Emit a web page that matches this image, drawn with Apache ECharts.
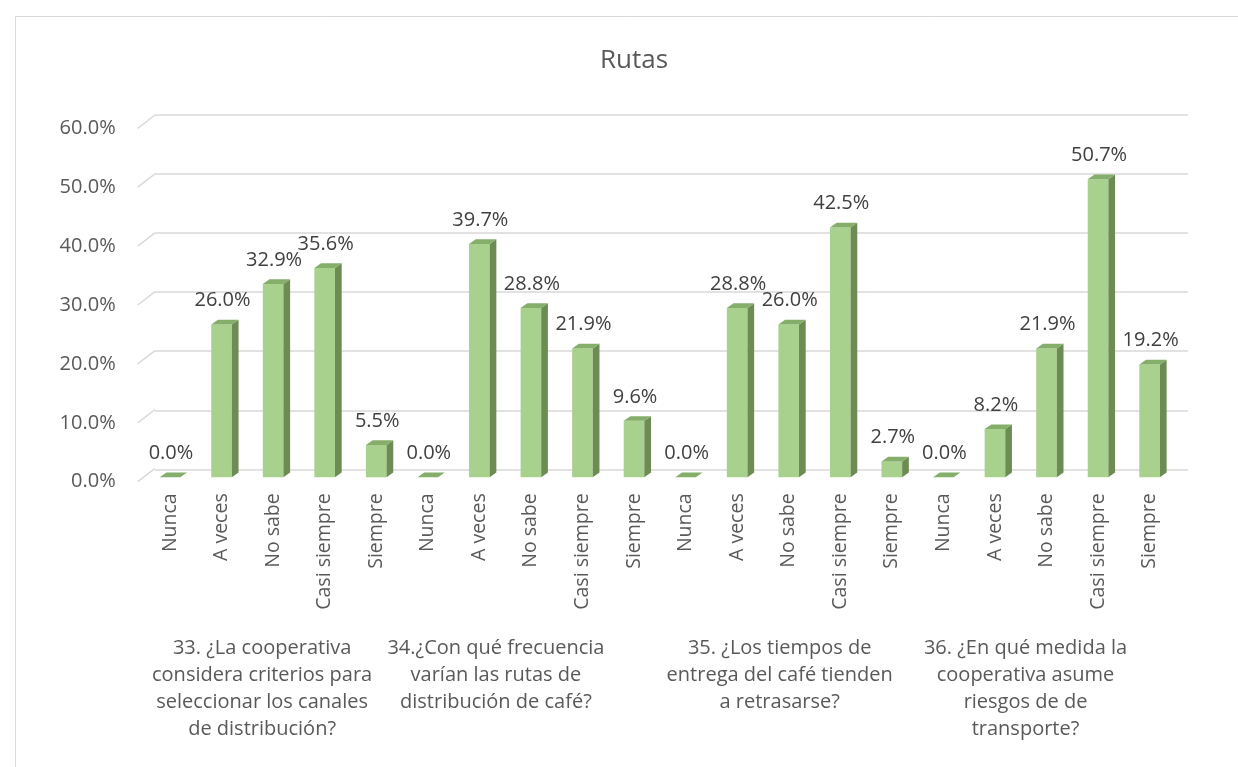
<!DOCTYPE html>
<html>
<head>
<meta charset="utf-8">
<script src="https://cdn.jsdelivr.net/npm/echarts@6/dist/echarts.min.js"></script>
<style>
html,body{margin:0;padding:0;background:#ffffff;}
#chart{width:1238px;height:767px;}
</style>
</head>
<body>
<div id="chart"></div>
<script>
// Survey answers, one block of five per question
const responses = ['Nunca', 'A veces', 'No sabe', 'Casi siempre', 'Siempre'];
const questions = [
  '33. ¿La cooperativa\nconsidera criterios para\nseleccionar los canales\nde distribución?',
  '34.¿Con qué frecuencia\nvarían las rutas de\ndistribución de café?',
  '35. ¿Los tiempos de\nentrega del café tienden\na retrasarse?',
  '36. ¿En qué medida la\ncooperativa asume\nriesgos de de\ntransporte?'
];
const q33 = [0.0, 26.0, 32.9, 35.6, 5.5];
const q34 = [0.0, 39.7, 28.8, 21.9, 9.6];
const q35 = [0.0, 28.8, 26.0, 42.5, 2.7];
const q36 = [0.0, 8.2, 21.9, 50.7, 19.2];
const yTicks = [0, 10, 20, 30, 40, 50, 60];

const FONT = '"Open Sans", "Noto Sans", sans-serif';
const FRONT = '#A9D18E', SIDE = '#6C8C54', TOP = '#84AE6A';
const GRID_C = '#D9D9D9';

const categories = [];
const values = [];
[q33, q34, q35, q36].forEach(function (arr) {
  arr.forEach(function (v, j) {
    categories.push(responses[j]);
    values.push(v);
  });
});
const barData = values.map(function (v, i) { return [i, v]; });

// question captions sit a little left of their block centre (right padding nudges them)
const captionPad = [22, 70, 18, 42];
const questionItems = questions.map(function (q, k) {
  return { value: q, textStyle: { padding: [0, captionPad[k], 0, 0] } };
});

// perspective depth of the boxes
const DX = 6.7, DY = -4.7;

function renderBar(params, api) {
  const i = api.value(0), v = api.value(1);
  const top = api.coord([i, v]);
  const base = api.coord([i, 0]);
  const w = api.size([1, 0])[0] * 0.4;
  const x0 = top[0] - w / 2, x1 = top[0] + w / 2;
  const yt = top[1], yb = base[1];
  const children = [];
  if (yb - yt > 0.3) {
    children.push({ type: 'rect', shape: { x: x0, y: yt, width: w, height: yb - yt }, style: { fill: FRONT } });
    children.push({ type: 'polygon', shape: { points: [[x1, yt], [x1 + DX, yt + DY], [x1 + DX, yb + DY], [x1, yb]] }, style: { fill: SIDE } });
  }
  children.push({ type: 'polygon', shape: { points: [[x0, yt], [x1, yt], [x1 + DX, yt + DY], [x0 + DX, yt + DY]] }, style: { fill: TOP } });
  children.push({
    type: 'text',
    style: {
      text: v.toFixed(1) + '%', x: top[0] + 1, y: yt - 24,
      align: 'center', verticalAlign: 'middle',
      fontSize: 20, fontFamily: FONT, fill: '#404040'
    }
  });
  return { type: 'group', children: children };
}

function renderSlant(params, api) {
  const p = api.coord([0, api.value(1)]);
  return {
    type: 'line',
    shape: { x1: p[0], y1: p[1], x2: p[0] + 17.3, y2: p[1] - 13.3 },
    style: { stroke: GRID_C, lineWidth: 1.5 }
  };
}

const chart = echarts.init(document.getElementById('chart'), null, { renderer: 'canvas' });
const plotW = 1031.2;
chart.setOption({
  backgroundColor: '#ffffff',
  animation: false,
  title: {
    text: 'Rutas', left: 629, top: 43, textAlign: 'center',
    textStyle: { fontSize: 26, fontWeight: 'normal', color: '#595959', fontFamily: FONT }
  },
  graphic: [{
    type: 'polyline', silent: true,
    shape: { points: [[15.5, 767], [15.5, 16.5], [1238, 16.5]] },
    style: { stroke: GRID_C, lineWidth: 1, fill: null }
  }],
  grid: [
    { left: 155, top: 115, width: 1033, height: 354.3 },
    { left: 137.7, top: 128.3, width: 17.3, height: 353.4 },
    { left: 144.2, top: 124.6, width: plotW, height: 352.7 },
    { left: 144.2, top: 124.6, width: plotW, height: 352.7 }
  ],
  xAxis: [
    { gridIndex: 0, type: 'value', show: false },
    { gridIndex: 1, type: 'value', min: 0, max: 1, show: false },
    {
      gridIndex: 2, type: 'category', data: categories,
      axisLine: { show: false }, axisTick: { show: false }, splitLine: { show: false },
      axisLabel: { interval: 0, rotate: 90, margin: 16, fontSize: 19.5, color: '#595959', fontFamily: FONT }
    },
    {
      gridIndex: 3, type: 'category', data: questionItems,
      axisLine: { show: false }, axisTick: { show: false }, splitLine: { show: false },
      axisLabel: { interval: 0, margin: 157, fontSize: 20, lineHeight: 27, color: '#595959', fontFamily: FONT, verticalAlign: 'top', align: 'center' }
    }
  ],
  yAxis: [
    {
      gridIndex: 0, type: 'value', min: 0, max: 60, interval: 10,
      axisLabel: { show: false }, axisLine: { show: false }, axisTick: { show: false },
      splitLine: { show: true, lineStyle: { color: GRID_C, width: 1.5 } }
    },
    {
      gridIndex: 1, type: 'value', min: 0, max: 60, interval: 10,
      axisLine: { show: false }, axisTick: { show: false }, splitLine: { show: false },
      axisLabel: {
        margin: 22, fontSize: 20, color: '#595959', fontFamily: FONT, padding: [6, 0, 0, 0],
        formatter: function (v) { return v.toFixed(1) + '%'; }
      }
    },
    { gridIndex: 2, type: 'value', min: 0, max: 60, show: false },
    { gridIndex: 3, type: 'value', min: 0, max: 60, show: false }
  ],
  series: [
    {
      type: 'custom', name: 'front edge', xAxisIndex: 1, yAxisIndex: 1, silent: true,
      data: yTicks.map(function (t) { return [0, t]; }),
      renderItem: renderSlant, clip: false
    },
    {
      type: 'custom', name: 'Rutas', xAxisIndex: 2, yAxisIndex: 2,
      data: barData, renderItem: renderBar, clip: false,
      encode: { x: 0, y: 1 }
    }
  ]
});
</script>
</body>
</html>
